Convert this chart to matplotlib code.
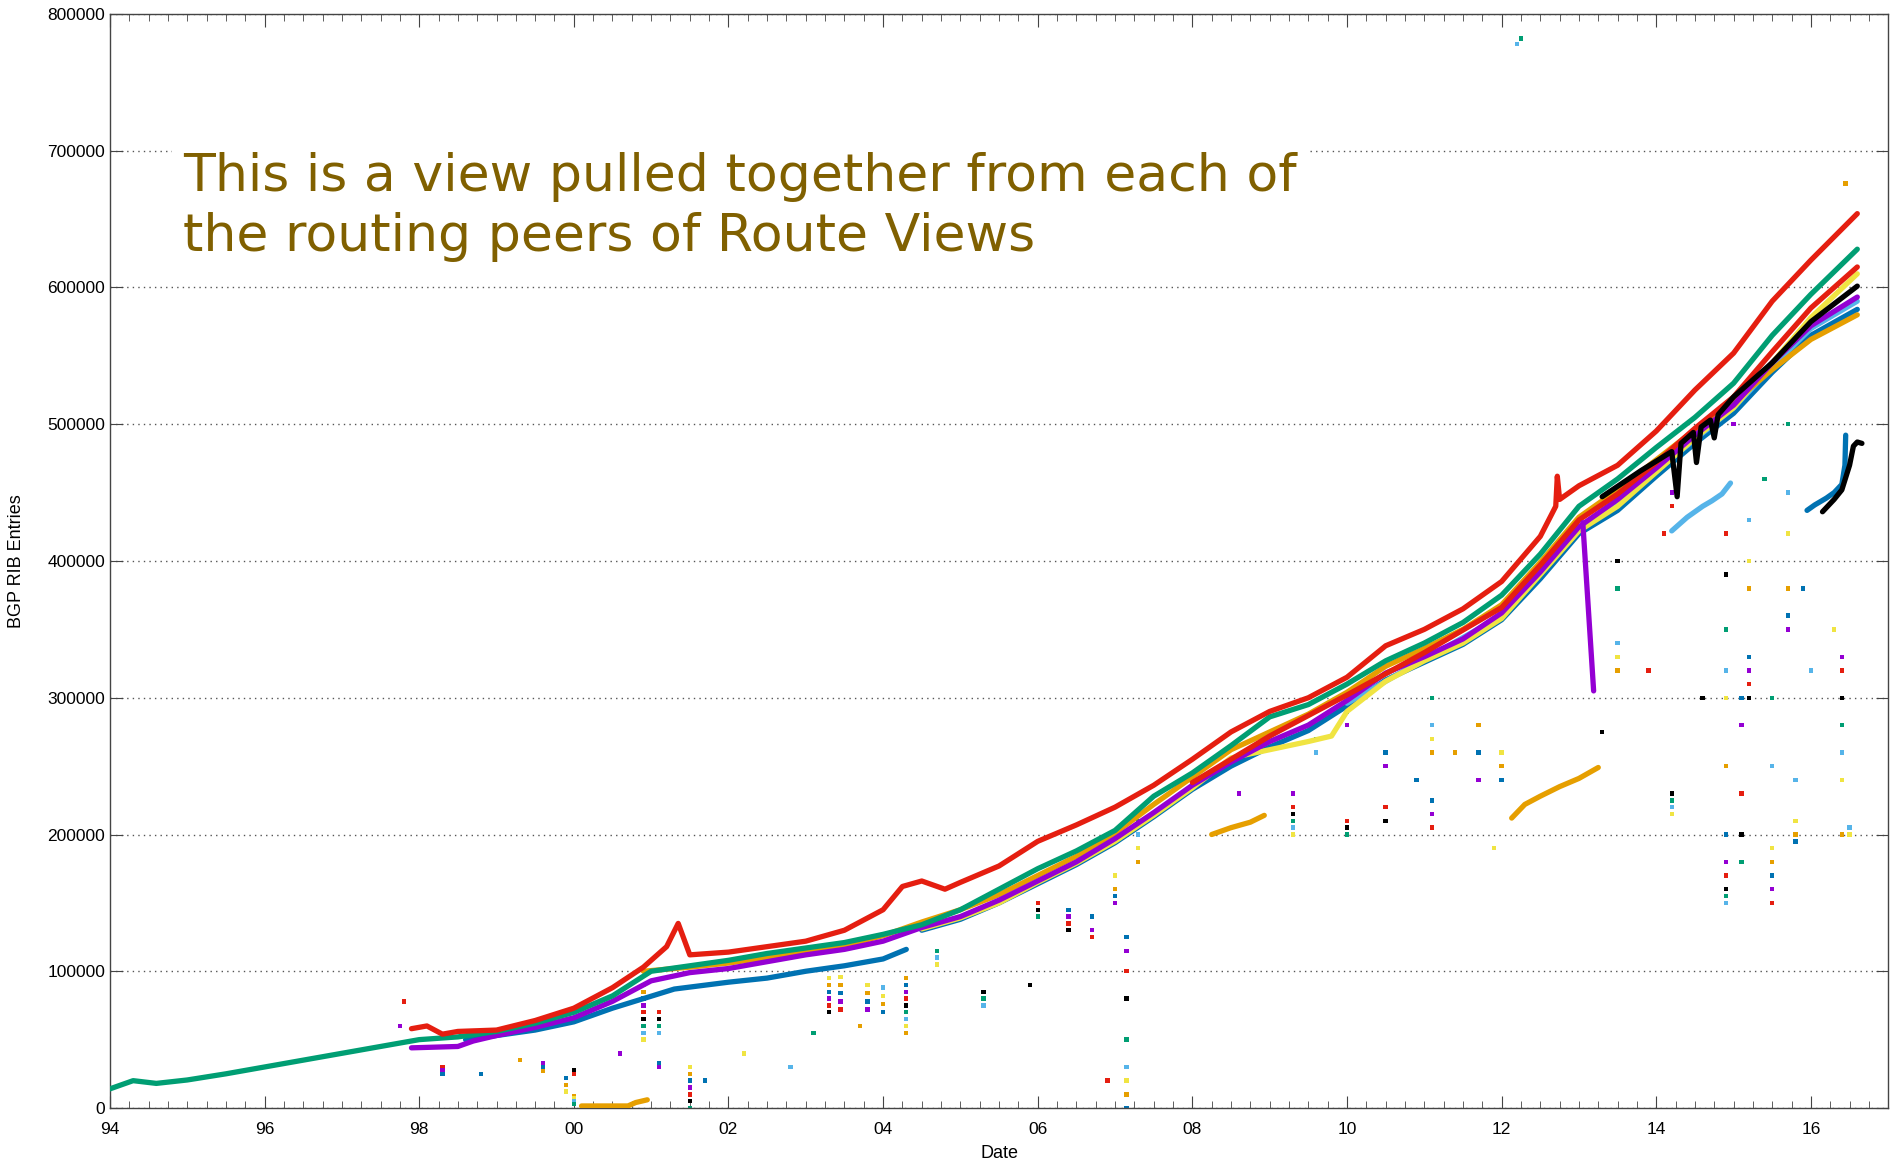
import numpy as np
import matplotlib
matplotlib.use("Agg")
from matplotlib import pyplot as plt
from matplotlib.ticker import MultipleLocator, FuncFormatter

# ---- data (decimal year, RIB entries) ----
green_years = [1994.0, 1994.3, 1994.6, 1995.0, 1995.5, 1996.0, 1996.5, 1997.0, 1997.5, 1998.0,
               1998.5, 1999.0, 1999.5, 2000.0, 2000.5, 2001.0, 2001.5, 2002.0, 2002.5, 2003.0,
               2003.5, 2004.0, 2004.5, 2005.0, 2005.5, 2006.0, 2006.5, 2007.0, 2007.5, 2008.0,
               2008.5, 2009.0, 2009.5, 2010.0, 2010.5, 2011.0, 2011.5, 2012.0, 2012.5, 2013.0,
               2013.5, 2014.0, 2014.5, 2015.0, 2015.5, 2016.0, 2016.6]
green_vals = [14000, 20000, 18000, 20500, 25000, 30000, 35000, 40000, 45000, 50000,
              52000, 56000, 62000, 70000, 82000, 100000, 104000, 108000, 113000, 117000,
              121000, 127000, 134000, 145000, 160000, 175000, 188000, 203000, 228000, 245000,
              265000, 286000, 295000, 310000, 327000, 340000, 355000, 375000, 405000, 440000,
              460000, 483000, 505000, 530000, 565000, 595000, 628000]

red_years = [1997.9, 1998.1, 1998.3, 1998.5, 1999.0, 1999.5, 2000.0, 2000.5, 2000.9, 2001.2,
             2001.35, 2001.5, 2002.0, 2002.5, 2003.0, 2003.5, 2004.0, 2004.25, 2004.5, 2004.8,
             2005.0, 2005.5, 2006.0, 2006.5, 2007.0, 2007.5, 2008.0, 2008.3, 2008.5, 2009.0,
             2009.5, 2010.0, 2010.5, 2011.0, 2011.5, 2012.0, 2012.5, 2012.7, 2012.72, 2012.75,
             2013.0, 2013.5, 2014.0, 2014.5, 2015.0, 2015.5, 2016.0, 2016.6]
red_vals = [58000, 60000, 54000, 56000, 57000, 64000, 73000, 88000, 103000, 118000,
            135000, 112000, 114000, 118000, 122000, 130000, 145000, 162000, 166000, 160000,
            165000, 177000, 195000, 207000, 220000, 236000, 255000, 267000, 275000, 290000,
            300000, 315000, 338000, 350000, 365000, 385000, 418000, 440000, 462000, 445000,
            455000, 470000, 495000, 525000, 552000, 590000, 620000, 654000]

purple_years = [1997.9, 1998.5, 1998.7, 1999.0, 1999.5, 2000.0, 2000.5, 2001.0, 2001.5, 2002.0,
                2002.5, 2003.0, 2003.5, 2004.0, 2004.5, 2005.0, 2005.5, 2006.0, 2006.5, 2007.0,
                2007.5, 2008.0, 2008.5, 2009.0, 2009.5, 2010.0, 2010.5, 2011.0, 2011.5, 2012.0,
                2012.5, 2013.0, 2013.5, 2014.0, 2014.5, 2015.0, 2015.5, 2016.0, 2016.6]
purple_vals = [44000, 45000, 49000, 53000, 59000, 66000, 78000, 93000, 99000, 102000,
               107000, 112000, 116000, 122000, 132000, 140000, 152000, 166000, 180000, 197000,
               216000, 236000, 253000, 268000, 280000, 298000, 318000, 330000, 343000, 362000,
               392000, 425000, 445000, 468000, 492000, 514000, 545000, 572000, 593000]

blue_early_years = [1998.6, 1999.0, 1999.5, 2000.0, 2000.5, 2000.9, 2001.3, 2002.0, 2002.5, 2003.0,
                    2003.5, 2004.0, 2004.3]
blue_early_vals = [50000, 53000, 57000, 63000, 73000, 80000, 87000, 92000, 95000, 100000,
                   104000, 109000, 116000]
blue_years = [2004.5, 2005.0, 2005.5, 2006.0, 2006.5, 2007.0, 2007.5, 2008.0, 2008.5, 2009.0,
              2009.5, 2010.0, 2010.5, 2011.0, 2011.5, 2012.0, 2012.5, 2013.0, 2013.5, 2014.0,
              2014.5, 2015.0, 2015.5, 2016.0, 2016.6]
blue_vals = [130000, 138000, 150000, 164000, 178000, 194000, 213000, 233000, 250000, 264000,
             276000, 294000, 313000, 326000, 339000, 357000, 387000, 420000, 437000, 462000,
             486000, 508000, 538000, 565000, 584000]

orange_years = [2000.9, 2001.5, 2002.0, 2002.5, 2003.0, 2003.5, 2004.0, 2004.5, 2005.0, 2005.5,
                2006.0, 2006.5, 2007.0, 2007.5, 2008.0, 2008.5, 2009.0, 2009.5, 2010.0, 2010.5,
                2011.0, 2011.5, 2012.0, 2012.5, 2013.0, 2013.5, 2014.0, 2014.5, 2015.0, 2015.5,
                2016.0, 2016.6]
orange_vals = [100000, 103000, 106000, 110000, 114000, 119000, 126000, 136000, 145000, 156000,
               170000, 184000, 201000, 222000, 242000, 262000, 275000, 288000, 304000, 323000,
               336000, 350000, 368000, 399000, 432000, 452000, 474000, 496000, 516000, 540000,
               562000, 580000]

yellow_years = [2004.5, 2005.0, 2005.5, 2006.0, 2006.5, 2007.0, 2007.5, 2008.0, 2008.5, 2009.0,
                2009.5, 2009.8, 2010.0, 2010.5, 2011.0, 2011.5, 2012.0, 2012.5, 2013.0, 2013.5,
                2014.0, 2014.5, 2015.0, 2015.5, 2016.0, 2016.6]
yellow_vals = [131000, 139000, 150000, 165000, 179000, 195000, 214000, 234000, 256000, 262000,
               268000, 272000, 290000, 312000, 327000, 340000, 358000, 390000, 422000, 440000,
               465000, 490000, 512000, 545000, 578000, 610000]

red2_years = [2008.0, 2009.0, 2010.0, 2011.0, 2012.0, 2012.5, 2013.0, 2013.5, 2014.0, 2014.5,
              2015.0, 2015.5, 2016.0, 2016.6]
red2_vals = [238000, 272000, 302000, 333000, 366000, 397000, 430000, 449000, 472000, 497000,
             520000, 553000, 585000, 615000]

sky_years = [2010.0, 2011.0, 2012.0, 2013.0, 2014.0, 2015.0, 2015.5, 2016.0, 2016.6]
sky_vals = [296000, 328000, 360000, 423000, 466000, 512000, 542000, 570000, 590000]

black_years = [2013.3, 2013.8, 2014.2, 2014.27, 2014.32, 2014.48, 2014.52, 2014.58, 2014.7, 2014.75,
               2014.8, 2015.0, 2015.5, 2016.0, 2016.6]
black_vals = [447000, 466000, 480000, 447000, 486000, 494000, 472000, 498000, 503000, 490000,
              507000, 520000, 545000, 575000, 601000]

# detached runs
orange_low1_years = [2000.1, 2000.4, 2000.7, 2000.8, 2000.95]
orange_low1_vals = [1500, 1500, 1500, 4000, 6000]
orange_low2_years = [2008.25, 2008.5, 2008.75, 2008.93]
orange_low2_vals = [200000, 205000, 209000, 214000]
orange_low3_years = [2012.13, 2012.3, 2012.5, 2012.75, 2013.0, 2013.25]
orange_low3_vals = [212000, 222000, 228000, 235000, 241000, 249000]
purple_drop_years = [2013.05, 2013.19]
purple_drop_vals = [428000, 305000]
sky_low_years = [2014.2, 2014.4, 2014.6, 2014.72, 2014.85, 2014.96]
sky_low_vals = [422000, 432000, 440000, 444000, 449000, 457000]
blue_low_years = [2015.95, 2016.05, 2016.2, 2016.3, 2016.4, 2016.44, 2016.45]
blue_low_vals = [437000, 441000, 446000, 450000, 456000, 470000, 492000]
black_low_years = [2016.15, 2016.3, 2016.4, 2016.5, 2016.55, 2016.6, 2016.66]
black_low_vals = [436000, 445000, 452000, 470000, 484000, 487000, 486000]

# vertical streaks of stray samples (all peers)
streak_years = [1998.3, 1999.6, 1999.9, 2000.0, 2000.9, 2001.1, 2001.5, 2003.3, 2003.45, 2003.8,
                2004.0, 2004.3, 2004.7, 2005.3, 2006.0, 2006.4, 2006.7, 2007.0, 2007.15, 2007.3,
                2009.3, 2009.6, 2010.0, 2010.5, 2011.1, 2011.7, 2012.0, 2013.5, 2014.2, 2014.9,
                2015.1, 2015.2, 2015.5, 2015.7, 2015.8, 2016.4, 2016.5]
streak_vals = [
    [30000, 28000, 25000],
    [33000, 30000, 27000],
    [22000, 17000, 12000],
    [9000, 7000, 5000, 3000, 28000, 25000],
    [50000, 55000, 60000, 65000, 70000, 75000, 80000, 85000, 90000],
    [55000, 60000, 65000, 70000, 30000, 33000],
    [0, 5000, 10000, 15000, 20000, 25000, 30000],
    [70000, 75000, 80000, 85000, 90000, 95000],
    [72000, 78000, 84000, 90000, 96000],
    [72000, 78000, 84000, 90000],
    [70000, 76000, 82000, 88000],
    [55000, 60000, 65000, 70000, 75000, 80000, 85000, 90000, 95000],
    [105000, 110000, 115000],
    [75000, 80000, 85000],
    [140000, 145000, 150000],
    [130000, 135000, 140000, 145000],
    [125000, 130000, 140000],
    [150000, 155000, 160000, 170000],
    [0, 10000, 20000, 30000, 50000, 80000, 100000, 115000, 125000, 200000, 210000],
    [180000, 190000, 200000, 210000],
    [200000, 205000, 210000, 215000, 220000, 230000],
    [260000, 270000, 280000],
    [200000, 205000, 210000, 280000, 290000],
    [210000, 220000, 250000, 260000],
    [205000, 215000, 225000, 260000, 270000, 280000, 300000],
    [240000, 260000, 280000],
    [240000, 250000, 260000],
    [320000, 330000, 340000, 380000, 400000],
    [215000, 220000, 225000, 230000, 440000, 450000],
    [150000, 155000, 160000, 170000, 180000, 200000, 250000, 300000, 320000, 350000, 390000, 420000],
    [180000, 200000, 230000, 280000, 300000],
    [300000, 310000, 320000, 330000, 380000, 400000, 430000],
    [150000, 160000, 170000, 180000, 190000, 250000, 300000],
    [350000, 360000, 380000, 420000, 450000, 500000],
    [195000, 200000, 210000, 240000],
    [200000, 240000, 260000, 280000, 300000, 320000, 330000],
    [200000, 205000],
]

# isolated samples
stray_years = [1997.8, 1997.75, 1998.8, 1999.3, 2002.2, 2002.8, 2003.1, 2005.9, 2006.9, 2008.6,
               2010.9, 2011.4, 2011.9, 2012.2, 2012.25, 2013.3, 2014.1, 2015.0, 2015.9, 2016.45,
               2016.3, 2016.0, 2015.4, 2014.6, 2013.9, 2000.6, 2001.7, 2003.7]
stray_vals = [78000, 60000, 25000, 35000, 40000, 30000, 55000, 90000, 20000, 230000,
              240000, 260000, 190000, 778000, 782000, 275000, 420000, 500000, 380000, 676000,
              350000, 320000, 460000, 300000, 320000, 40000, 20000, 60000]

PURPLE = "#9400d3"
GREEN = "#009e73"
SKY = "#56b4e9"
ORANGE = "#e69f00"
YELLOW = "#f0e442"
BLUE = "#0072b2"
RED = "#e51e10"
BLACK = "#000000"
cycle = [RED, PURPLE, BLUE, ORANGE, YELLOW, SKY, GREEN, BLACK]

plt.rcParams["font.family"] = ["Liberation Sans", "DejaVu Sans"]
fig = plt.figure(figsize=(18.92, 11.64), dpi=100)
ax = fig.add_axes([0.0581, 0.0481, 0.9399, 0.9399])

# stray samples first so the bands sit on top
for i, (yr, vals) in enumerate(zip(streak_years, streak_vals)):
    cols = [cycle[(i + k) % len(cycle)] for k in range(len(vals))]
    ax.scatter([yr] * len(vals), vals, s=10, c=cols, marker="s", linewidths=0, zorder=2)
ax.scatter(stray_years, stray_vals, s=10, marker="s", linewidths=0, zorder=2,
           c=[cycle[k % len(cycle)] for k in range(len(stray_years))])

lw = 3.8
series = [
    (blue_early_years, blue_early_vals, BLUE),
    (blue_years, blue_vals, BLUE),
    (sky_years, sky_vals, SKY),
    (yellow_years, yellow_vals, YELLOW),
    (orange_years, orange_vals, ORANGE),
    (purple_years, purple_vals, PURPLE),
    (red2_years, red2_vals, RED),
    (black_years, black_vals, BLACK),
    (green_years, green_vals, GREEN),
    (red_years, red_vals, RED),
    (orange_low1_years, orange_low1_vals, ORANGE),
    (orange_low2_years, orange_low2_vals, ORANGE),
    (orange_low3_years, orange_low3_vals, ORANGE),
    (purple_drop_years, purple_drop_vals, PURPLE),
    (sky_low_years, sky_low_vals, SKY),
    (blue_low_years, blue_low_vals, BLUE),
    (black_low_years, black_low_vals, BLACK),
]
for xs, ys, col in series:
    ax.plot(xs, ys, color=col, lw=lw, solid_capstyle="round", solid_joinstyle="round", zorder=3)

ax.set_xlim(1994, 2017)
ax.set_ylim(0, 800000)
ax.xaxis.set_major_locator(MultipleLocator(2))
ax.xaxis.set_minor_locator(MultipleLocator(0.25))
ax.xaxis.set_major_formatter(FuncFormatter(lambda v, p: "%02d" % (int(round(v)) % 100)))
ax.yaxis.set_major_locator(MultipleLocator(100000))
ax.tick_params(axis="both", which="both", direction="in", top=True, right=True,
               labelsize=12.5, color="#444444")
ax.tick_params(axis="both", which="major", length=9)
ax.tick_params(axis="x", which="minor", length=5)
ax.tick_params(axis="x", which="major", pad=10)
ax.yaxis.grid(True, linestyle=(0, (1, 3)), color="#555555", linewidth=1.0, zorder=0)
ax.set_axisbelow(True)
for sp in ax.spines.values():
    sp.set_color("#444444")
    sp.set_linewidth(1.0)

ax.set_xlabel("Date", fontsize=13, labelpad=6)
ax.set_ylabel("BGP RIB Entries", fontsize=13, labelpad=16)

ax.text(1994.95, 699000, "This is a view pulled together from each of\nthe routing peers of Route Views",
        fontsize=37.5, color="#806000", va="top", ha="left", linespacing=1.25, zorder=5,
        family=["DejaVu Sans"],
        bbox=dict(facecolor="white", edgecolor="none", pad=8))

fig.savefig("out.png", dpi=100)
